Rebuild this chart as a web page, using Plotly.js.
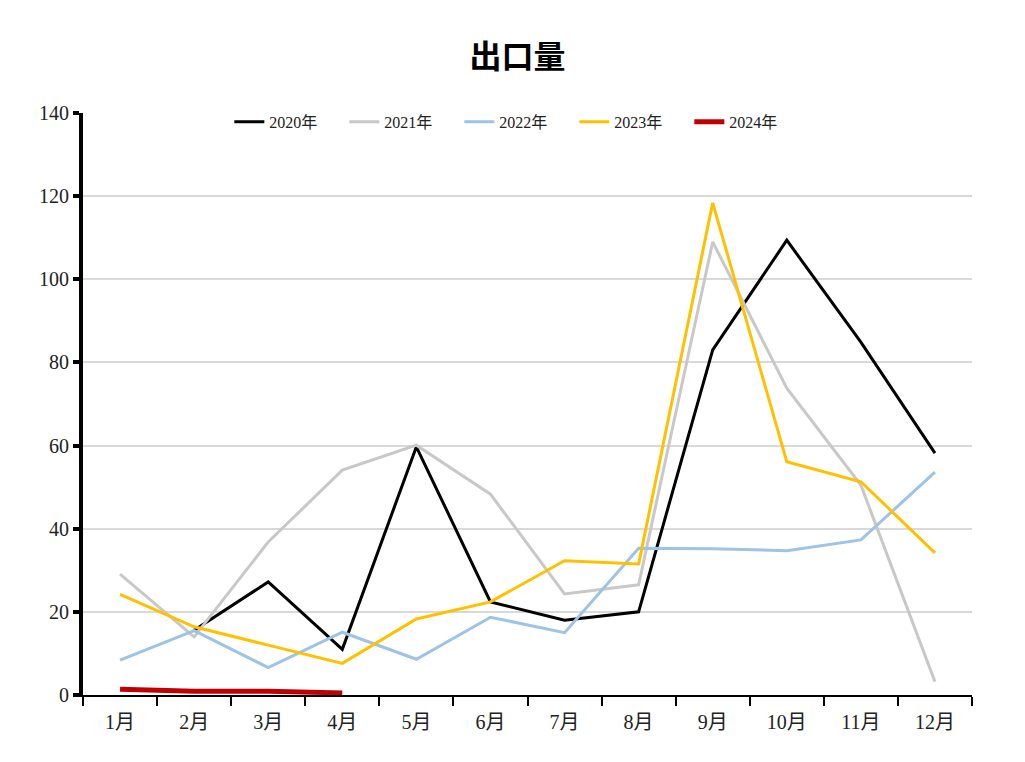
<!DOCTYPE html>
<html>
<head>
<meta charset="utf-8">
<script src="https://cdn.plot.ly/plotly-3.0.1.min.js"></script>
<style>html,body{margin:0;padding:0;background:#fff;}#chart{width:1025px;height:762px;}</style>
</head>
<body>
<div id="chart"></div>
<script>
const months = ["1月","2月","3月","4月","5月","6月","7月","8月","9月","10月","11月","12月"];
const seriesNames = ["2020年","2021年","2022年","2023年","2024年"];
const y2020 = [null, 15.6, 27.2, 11.0, 59.7, 22.4, 18.0, 20.0, 83.0, 109.4, 84.9, 58.2];
const y2021 = [29.1, 14.0, 36.8, 54.1, 60.1, 48.3, 24.3, 26.5, 109.0, 73.8, 50.5, 3.2];
const y2022 = [8.4, 15.5, 6.6, 15.1, 8.6, 18.7, 15.0, 35.3, 35.2, 34.7, 37.3, 53.6];
const y2023 = [24.2, 16.4, 12.0, 7.6, 18.3, 22.4, 32.3, 31.5, 118.4, 56.1, 51.3, 34.2];
const y2024 = [1.4, 0.9, 0.9, 0.5];

const colors = ["#000000","#c8c8c8","#9dc3e6","#ffc000","#c00000"];
const widths = [3,3,3,3,5];
const data = [y2020,y2021,y2022,y2023,y2024];

const font = '"Liberation Serif", "Noto Sans CJK SC", serif';

const traces = data.map((ys,i)=>({
  type:'scatter', mode:'lines',
  x: months.slice(0, ys.length), y: ys,
  name: seriesNames[i],
  line:{color:colors[i], width:widths[i]},
  connectgaps:false
}));

const layout = {
  width:1025, height:762,
  paper_bgcolor:'#fff', plot_bgcolor:'#fff',
  margin:{l:83, r:53, t:113, b:67},
  title:{text:'<b>出口量</b>', x:0.505, xanchor:'center', y:0.925, yanchor:'middle',
         font:{family:font, size:32, color:'#000'}},
  font:{family:font, color:'#000'},
  showlegend:true,
  legend:{orientation:'h', x:0.488, xanchor:'center', y:1.014, yanchor:'top',
          font:{family:font, size:16, color:'#222'}, bgcolor:'rgba(0,0,0,0)',
          tracegroupgap:0, itemwidth:30, entrywidth:70, entrywidthmode:'pixels'},
  xaxis:{type:'category', categoryorder:'array', categoryarray:months,
         range:[-0.5,11.5], tickson:'boundaries',
         showline:true, linecolor:'#000', linewidth:2,
         ticks:'outside', ticklen:9, tickwidth:2, tickcolor:'#000',
         ticklabelstandoff:8,
         showgrid:false, zeroline:false,
         tickfont:{family:font, size:20, color:'#222'}},
  yaxis:{range:[0,140], dtick:20, tick0:0,
         showline:true, linecolor:'#000', linewidth:4,
         ticks:'outside', ticklen:6, tickwidth:4, tickcolor:'#000',
         showgrid:true, gridcolor:'#d9d9d9', gridwidth:2,
         zeroline:false,
         tickfont:{family:font, size:20, color:'#222'}}
};

Plotly.newPlot('chart', traces, layout, {displayModeBar:false, staticPlot:true});
</script>
</body>
</html>
